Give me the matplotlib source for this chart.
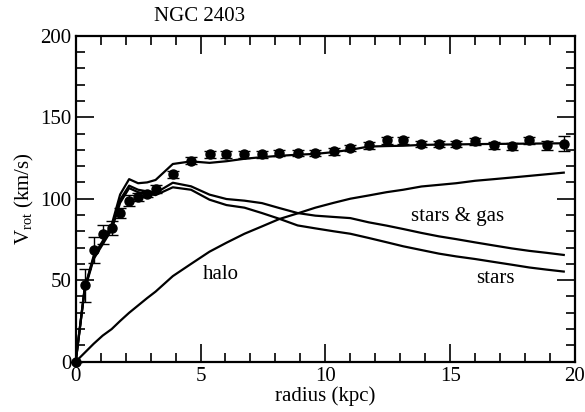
import matplotlib
matplotlib.use("Agg")
import matplotlib.pyplot as plt
from matplotlib.ticker import MultipleLocator

plt.rcParams['font.family'] = ['Liberation Serif', 'DejaVu Serif']
plt.rcParams['mathtext.fontset'] = 'custom'
plt.rcParams['mathtext.rm'] = 'Liberation Serif'
plt.rcParams['mathtext.it'] = 'Liberation Serif:italic'

# NGC 2403 rotation curve (kpc, km/s)
radius = [0.0, 0.36, 0.72, 1.08, 1.44, 1.78, 2.14, 2.5, 2.86, 3.2, 3.89,
          4.62, 5.36, 6.04, 6.76, 7.46, 8.15, 8.89, 9.6, 10.34, 11.0,
          11.74, 12.45, 13.12, 13.85, 14.55, 15.24, 16.0, 16.75, 17.47,
          18.17, 18.86, 19.55]
v_obs = [0.0, 46.8, 68.7, 78.1, 82.0, 91.0, 98.8, 101.0, 102.9, 106.0, 115.0,
         123.3, 127.2, 127.2, 127.2, 127.2, 128.0, 128.0, 128.0, 129.0, 131.0,
         132.7, 135.8, 135.8, 133.7, 133.7, 133.7, 135.2, 132.7, 132.1,
         135.8, 132.7, 133.7]
v_err = [0.0, 10.0, 8.0, 6.0, 4.5, 3.0, 3.5, 2.5, 2.0, 2.5, 2.0,
         2.0, 2.0, 2.0, 2.0, 2.0, 2.0, 2.0, 2.0, 2.0, 2.0,
         2.0, 2.0, 2.0, 2.0, 2.0, 2.0, 2.0, 2.0, 2.0,
         2.0, 3.0, 4.5]

# Mass model components
v_total = [0.0, 45.0, 65.0, 74.0, 84.0, 102.6, 112.0, 109.5, 110.0, 111.5, 121.3,
           122.9, 122.0, 123.0, 124.5, 125.5, 126.3, 127.0, 127.5, 128.6, 130.0,
           132.0, 132.3, 132.5, 133.0, 133.2, 133.3, 133.5, 133.6, 133.7,
           133.8, 133.9, 134.0]
v_stars_gas = [0.0, 45.0, 64.0, 73.0, 82.0, 99.4, 108.0, 105.5, 104.5, 103.5, 109.8,
               107.6, 102.5, 99.8, 98.8, 97.3, 94.3, 91.2, 89.6, 88.8, 88.1,
               85.5, 83.5, 81.4, 79.0, 76.9, 75.2, 73.2, 71.3, 69.5,
               68.0, 66.8, 65.5]
v_stars = [0.0, 44.0, 63.0, 72.0, 81.0, 97.5, 106.5, 104.0, 103.0, 102.2, 107.0,
           105.5, 99.4, 96.1, 94.5, 91.2, 87.7, 83.6, 81.8, 80.0, 78.5,
           75.9, 73.3, 70.8, 68.5, 66.3, 64.6, 63.0, 61.2, 59.5,
           57.8, 56.5, 55.3]
v_halo = [0.0, 5.5, 11.0, 16.0, 20.0, 25.0, 30.0, 34.5, 39.0, 43.0, 52.5,
          60.0, 67.5, 73.0, 78.5, 83.0, 87.5, 91.0, 94.5, 97.5, 100.0,
          102.0, 104.0, 105.5, 107.5, 108.5, 109.5, 111.0, 112.0, 113.0,
          114.0, 115.0, 116.0]

fig = plt.figure(figsize=(5.85, 4.12), dpi=100)
ax = fig.add_axes([0.1294, 0.1221, 0.8535, 0.7912])

fs = 15
lw = 1.6
ax.plot(radius, v_total, color='black', lw=lw)
ax.plot(radius, v_stars_gas, color='black', lw=lw)
ax.plot(radius, v_stars, color='black', lw=lw)
ax.plot(radius, v_halo, color='black', lw=lw)
ax.errorbar(radius, v_obs, yerr=v_err, fmt='o', color='black', ms=6.5,
            elinewidth=1.0, capsize=4, capthick=1.0, clip_on=False, zorder=5)

ax.text(5.8, 53.2, 'halo', ha='center', va='center', fontsize=fs)
ax.text(15.3, 89.0, 'stars & gas', ha='center', va='center', fontsize=fs)
ax.text(16.8, 51.2, 'stars', ha='center', va='center', fontsize=fs)
ax.text(4.97, 212, 'NGC 2403', ha='center', va='center', fontsize=fs)

ax.set_xlim(0, 20)
ax.set_ylim(0, 200)
ax.xaxis.set_major_locator(MultipleLocator(5))
ax.xaxis.set_minor_locator(MultipleLocator(1))
ax.yaxis.set_major_locator(MultipleLocator(50))
ax.yaxis.set_minor_locator(MultipleLocator(10))
ax.tick_params(which='both', direction='in', top=True, right=True,
               labelsize=fs, width=1.2)
ax.tick_params(which='major', length=13)
ax.tick_params(which='minor', length=6.5)
ax.tick_params(axis='x', pad=4)
ax.tick_params(axis='y', pad=3)
for s in ax.spines.values():
    s.set_linewidth(1.6)

ax.set_xlabel('radius (kpc)', fontsize=fs, labelpad=0)
ax.set_ylabel(r'V$_{\rm rot}$ (km/s)', fontsize=fs, labelpad=3)

fig.savefig('out.png', dpi=100)
